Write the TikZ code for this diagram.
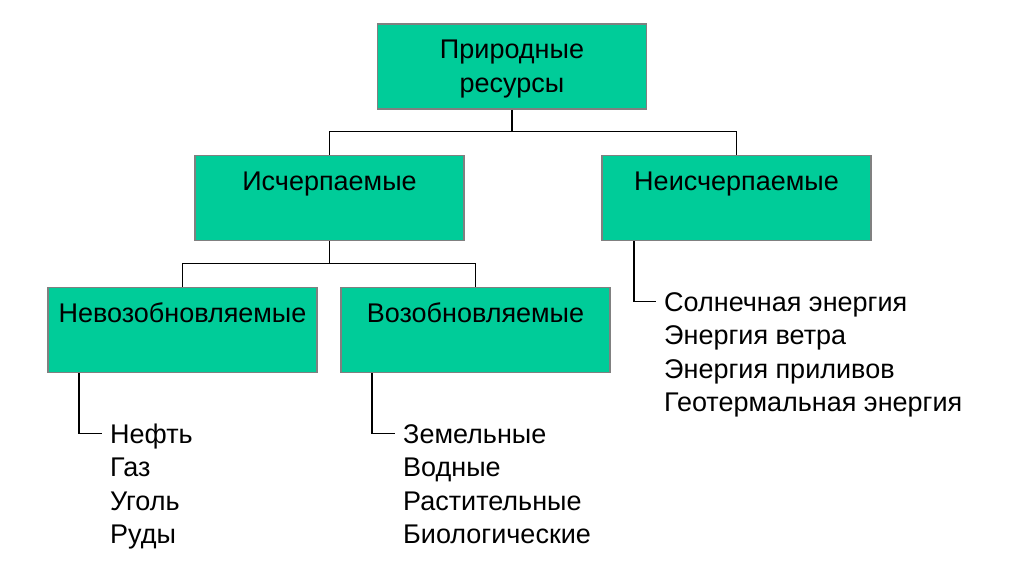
\documentclass[tikz,border=0pt]{standalone}
\usepackage{fontspec}
\setmainfont{Liberation Sans}
\definecolor{boxfill}{RGB}{0,204,153}
\definecolor{boxline}{RGB}{128,128,128}
\begin{document}
\begin{tikzpicture}[x=1pt,y=-1pt,
  box/.style={draw=boxline, line width=1.5pt, fill=boxfill, inner sep=0pt,
    minimum width=269pt, minimum height=85pt, text height=35pt, text depth=50pt,
    font=\fontsize{27}{34}\selectfont},
  item/.style={anchor=base west, inner xsep=8pt, inner ysep=0pt,
    text height=19pt, text depth=0pt, font=\fontsize{27}{34}\selectfont},
  conn/.style={draw=black, line width=1.8pt}]
\useasboundingbox (0,0) rectangle (1024,574);
\fill[white] (0,0) rectangle (1024,574);

\node[box, text height=68pt, text depth=17pt, align=center] (root) at (512,66.5) {Природные\\ресурсы};
\node[box] (isch) at (329.5,198) {Исчерпаемые};
\node[box] (neisch) at (736.5,198) {Неисчерпаемые};
\node[box] (nevoz) at (182.5,330) {Невозобновляемые};
\node[box] (voz) at (475.5,330) {Возобновляемые};

\coordinate (bus1) at (512,131.5);
\coordinate (bus2) at (329.5,263.5);
\draw[conn] (root.south) -- (bus1);
\draw[conn] (isch.north) |- (bus1) -| (neisch.north);
\draw[conn] (isch.south) -- (bus2);
\draw[conn] (nevoz.north) |- (bus2) -| (voz.north);

% lists
\node[item] (neft) at (102,443) {Нефть};
\node[item] (gaz) at (102,476.5) {Газ};
\node[item] (ugol) at (102,510) {Уголь};
\node[item] (rudy) at (102,543.5) {Руды};

\node[item] (zem) at (395,443) {Земельные};
\node[item] (vod) at (395,476.5) {Водные};
\node[item] (rast) at (395,510) {Растительные};
\node[item] (biol) at (395,543.5) {Биологические};

\node[item] (soln) at (656,311) {Солнечная энергия};
\node[item] (veter) at (656,344.5) {Энергия ветра};
\node[item] (pril) at (656,378) {Энергия приливов};
\node[item] (geo) at (656,411.5) {Геотермальная энергия};

\draw[conn] ([xshift=32pt]nevoz.south west) |- (neft.west);
\draw[conn] ([xshift=32pt]voz.south west) |- (zem.west);
\draw[conn] ([xshift=33pt]neisch.south west) |- (soln.west);
\end{tikzpicture}
\end{document}
